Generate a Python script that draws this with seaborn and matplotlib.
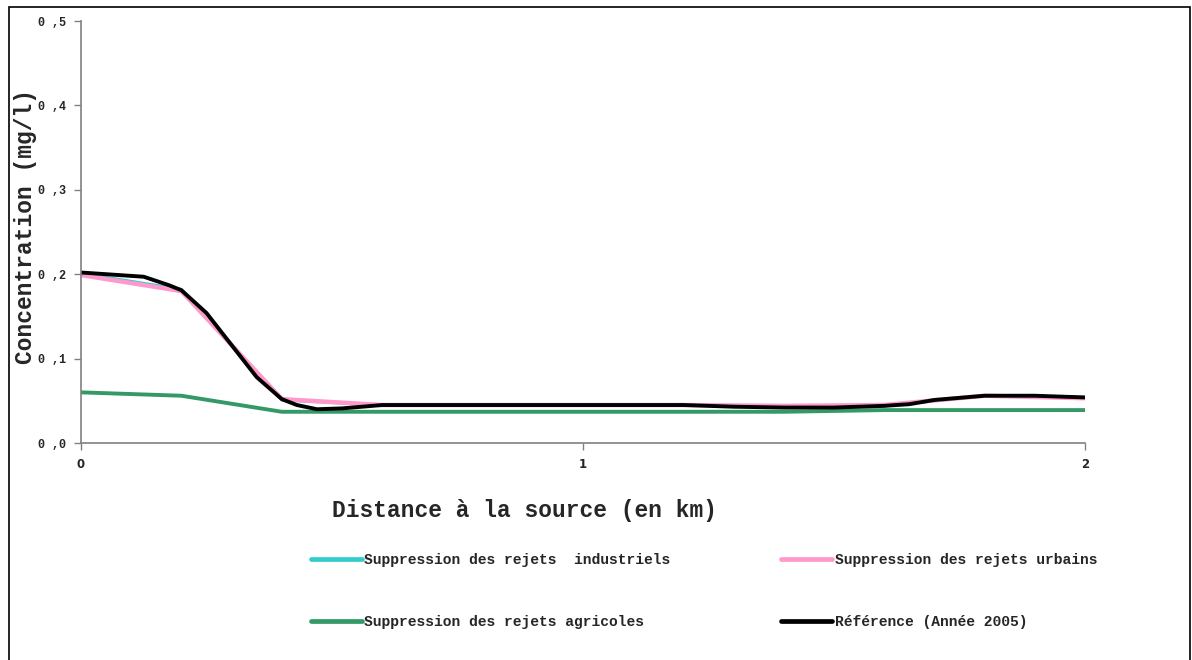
import pandas as pd
import numpy as np
import matplotlib.pyplot as plt
import seaborn as sns
from matplotlib.patches import Rectangle

# Values (distance in km, concentration in mg/l)
x_indus = [0.0, 0.2, 0.4, 0.6, 0.8, 1.0, 1.2, 1.4, 1.6, 1.8, 2.0]
y_indus = [0.201, 0.182, 0.051, 0.045, 0.045, 0.045, 0.045, 0.043, 0.044, 0.056, 0.054]

x_urb = [0.0, 0.2, 0.4, 0.6, 0.8, 1.0, 1.2, 1.4, 1.6, 1.8, 2.0]
y_urb = [0.199, 0.180, 0.052, 0.045, 0.045, 0.045, 0.045, 0.044, 0.045, 0.056, 0.053]

x_agri = [0.0, 0.2, 0.4, 0.6, 0.8, 1.0, 1.2, 1.4, 1.6, 1.8, 2.0]
y_agri = [0.060, 0.056, 0.037, 0.037, 0.037, 0.037, 0.037, 0.037, 0.039, 0.039, 0.039]

x_ref = [0.0, 0.125, 0.175, 0.2, 0.25, 0.35, 0.4, 0.43, 0.47, 0.52, 0.6, 0.8, 1.0, 1.2,
         1.3, 1.4, 1.5, 1.6, 1.65, 1.7, 1.8, 1.9, 2.0]
y_ref = [0.202, 0.197, 0.187, 0.181, 0.154, 0.078, 0.052, 0.045, 0.040, 0.041, 0.045, 0.045,
         0.045, 0.045, 0.043, 0.042, 0.042, 0.044, 0.046, 0.051, 0.056, 0.056, 0.054]

labels = ["Suppression des rejets  industriels", "Suppression des rejets urbains",
          "Suppression des rejets agricoles", "Référence (Année 2005)"]
colors = ["#33CCCC", "#FF99CC", "#339966", "#000000"]
widths = [2.2, 3.2, 2.8, 2.8]

sns.set_style("white")
plt.rcParams['font.family'] = ['DejaVu Sans']

fig = plt.figure(figsize=(11.92, 6.6), dpi=100)
ax = fig.add_axes([81 / 1192, 1 - 443 / 660, (1085 - 81) / 1192, (443 - 21) / 660])

series = [(x_indus, y_indus), (x_urb, y_urb), (x_agri, y_agri), (x_ref, y_ref)]
for (xs, ys), lab, col, lw in zip(series, labels, colors, widths):
    df = pd.DataFrame({'x': xs, 'y': ys})
    sns.lineplot(data=df, x='x', y='y', color=col, linewidth=lw, label=lab, ax=ax)

ax.set_xlim(0, 2)
ax.set_ylim(0, 0.5)
ax.set_xticks([0, 1, 2])
ax.set_xticklabels(['0', '1', '2'], fontsize=8.5, fontweight='bold')
ax.set_yticks(np.arange(0, 0.51, 0.1))
ax.set_yticklabels(['0 ,0', '0 ,1', '0 ,2', '0 ,3', '0 ,4', '0 ,5'],
                   fontsize=8.5, fontweight='bold', family='Liberation Mono')
ax.tick_params(axis='both', which='major', direction='out', length=5, width=1,
               color='#808080', left=True, bottom=True, pad=6)
for side in ['top', 'right']:
    ax.spines[side].set_visible(False)
for side in ['left', 'bottom']:
    ax.spines[side].set_color('#808080')
    ax.spines[side].set_linewidth(1.2)

ax.set_xlabel('')
ax.set_ylabel('')
fig.text(26 / 1192, 1 - 226 / 660, 'Concentration (mg/l)', rotation=90, ha='center', va='center',
         fontsize=16.5, fontweight='bold', family='Liberation Mono')
fig.text(524 / 1192, 1 - 511 / 660, 'Distance à la source (en km)', ha='center', va='center',
         fontsize=16.5, fontweight='bold', family='Liberation Mono')

handles, labs = ax.get_legend_handles_labels()
ax.get_legend().remove()
order = [0, 2, 1, 3]
leg = fig.legend([handles[i] for i in order], [labs[i] for i in order], ncol=2,
                 loc='upper left', bbox_to_anchor=(298 / 1192, 1 - 540 / 660),
                 frameon=False, handlelength=3.5, handletextpad=0.15,
                 columnspacing=7.6, labelspacing=3.3,
                 prop={'size': 10.5, 'weight': 'bold', 'family': 'Liberation Mono'})
for h in leg.get_lines():
    h.set_linewidth(3.4)

fig.patches.append(Rectangle((9 / 1192, -0.01), (1190 - 9) / 1192, 1 - 7 / 660 + 0.01,
                             transform=fig.transFigure, fill=False, edgecolor='black',
                             linewidth=1.2))

fig.savefig('out.png', dpi=100)
plt.close()
